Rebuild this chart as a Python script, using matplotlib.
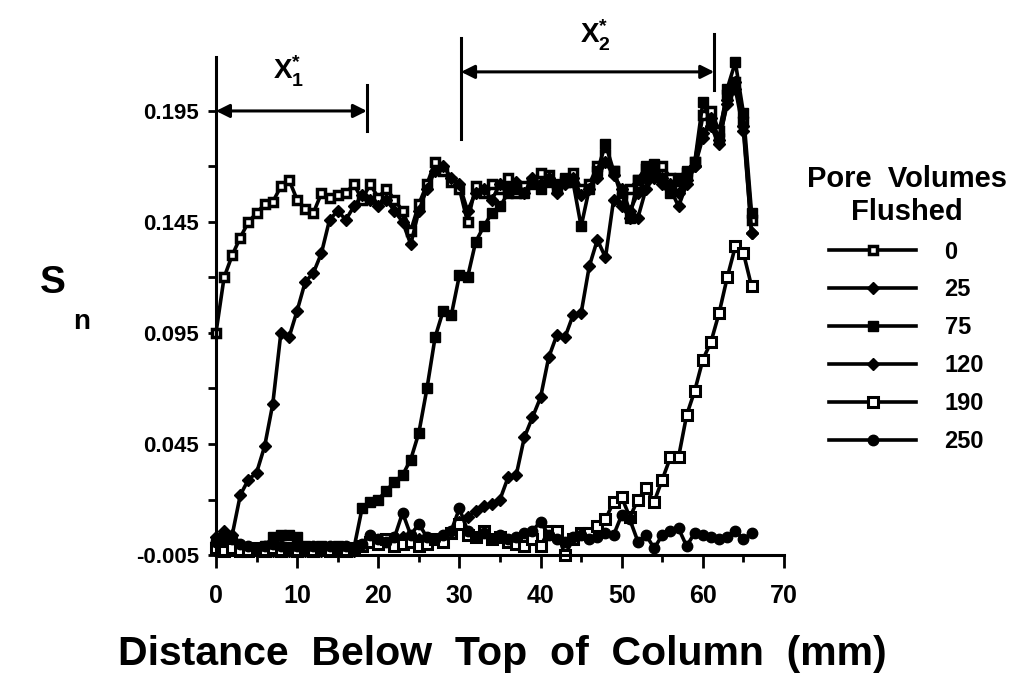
import matplotlib
matplotlib.use("Agg")
import matplotlib.pyplot as plt
from matplotlib.ticker import FixedLocator

plt.rcParams['font.family'] = ['Liberation Sans', 'DejaVu Sans']
plt.rcParams['font.weight'] = 'bold'
plt.rcParams['mathtext.fontset'] = 'custom'
plt.rcParams['mathtext.rm'] = 'Liberation Sans:bold'
plt.rcParams['mathtext.bf'] = 'Liberation Sans:bold'
plt.rcParams['mathtext.it'] = 'Liberation Sans:bold'

# distance below top of column (mm)
distance = [0, 1, 2, 3, 4, 5, 6, 7, 8, 9,
            10, 11, 12, 13, 14, 15, 16, 17, 18, 19,
            20, 21, 22, 23, 24, 25, 26, 27, 28, 29,
            30, 31, 32, 33, 34, 35, 36, 37, 38, 39,
            40, 41, 42, 43, 44, 45, 46, 47, 48, 49,
            50, 51, 52, 53, 54, 55, 56, 57, 58, 59,
            60, 61, 62, 63, 64, 65, 66]

sn_0 = [0.095, 0.120, 0.130, 0.138, 0.145, 0.149, 0.153, 0.154, 0.161, 0.164,
        0.155, 0.151, 0.149, 0.158, 0.156, 0.157, 0.158, 0.162, 0.155, 0.162,
        0.156, 0.160, 0.155, 0.150, 0.141, 0.153, 0.162, 0.172, 0.168, 0.163,
        0.160, 0.145, 0.161, 0.158, 0.162, 0.160, 0.165, 0.158, 0.161, 0.163,
        0.167, 0.166, 0.160, 0.163, 0.167, 0.160, 0.162, 0.170, 0.175, 0.168,
        0.156, 0.160, 0.164, 0.169, 0.166, 0.170, 0.165, 0.160, 0.167, 0.172,
        0.193, 0.195, 0.186, 0.202, 0.208, 0.190, 0.146]

sn_25 = [0.003, 0.006, 0.004, 0.022, 0.029, 0.032, 0.044, 0.063, 0.095, 0.093,
         0.105, 0.118, 0.122, 0.131, 0.146, 0.150, 0.146, 0.152, 0.157, 0.155,
         0.152, 0.155, 0.150, 0.145, 0.135, 0.150, 0.160, 0.168, 0.170, 0.165,
         0.162, 0.150, 0.158, 0.160, 0.155, 0.162, 0.160, 0.163, 0.158, 0.165,
         0.162, 0.165, 0.158, 0.162, 0.165, 0.157, 0.160, 0.165, 0.172, 0.166,
         0.160, 0.150, 0.158, 0.165, 0.168, 0.165, 0.162, 0.158, 0.164, 0.170,
         0.185, 0.188, 0.180, 0.200, 0.208, 0.188, 0.140]

sn_75 = [0.000, -0.001, -0.002, -0.002, -0.002, -0.002, -0.001, 0.003, 0.004, 0.004,
         0.003, -0.001, -0.002, -0.001, -0.002, -0.001, -0.003, -0.002, 0.016, 0.019,
         0.020, 0.024, 0.028, 0.031, 0.038, 0.050, 0.070, 0.093, 0.105, 0.103,
         0.121, 0.120, 0.136, 0.143, 0.149, 0.152, 0.158, 0.160, 0.158, 0.162,
         0.160, 0.163, 0.162, 0.165, 0.163, 0.143, 0.160, 0.168, 0.180, 0.168,
         0.158, 0.147, 0.164, 0.170, 0.171, 0.165, 0.158, 0.165, 0.168, 0.172,
         0.199, 0.190, 0.183, 0.205, 0.217, 0.194, 0.149]

sn_120 = [-0.003, -0.003, -0.002, -0.003, -0.002, -0.003, -0.002, -0.003, -0.002, -0.003,
          -0.002, -0.003, -0.002, -0.003, -0.002, -0.003, -0.002, -0.003, -0.001, 0.001,
          0.000, 0.002, 0.001, 0.003, 0.001, 0.002, 0.000, 0.002, 0.003, 0.005,
          0.010, 0.012, 0.015, 0.017, 0.018, 0.020, 0.030, 0.031, 0.048, 0.057,
          0.066, 0.084, 0.094, 0.093, 0.103, 0.104, 0.125, 0.137, 0.129, 0.155,
          0.152, 0.147, 0.147, 0.160, 0.165, 0.162, 0.160, 0.152, 0.162, 0.170,
          0.183, 0.192, 0.182, 0.198, 0.205, 0.186, 0.140]

sn_190 = [-0.002, -0.003, -0.002, -0.003, -0.003, -0.002, -0.003, -0.002, -0.003, -0.002,
          -0.003, -0.002, -0.003, -0.002, -0.003, -0.002, -0.003, -0.002, -0.001, 0.001,
          0.000, 0.002, -0.001, 0.000, 0.001, -0.001, 0.000, 0.002, 0.001, 0.005,
          0.009, 0.004, 0.003, 0.006, 0.002, 0.003, 0.001, 0.000, -0.001, 0.002,
          -0.001, 0.006, 0.006, -0.005, 0.002, 0.005, 0.005, 0.008, 0.011, 0.019,
          0.021, 0.012, 0.020, 0.025, 0.019, 0.029, 0.039, 0.039, 0.058, 0.069,
          0.083, 0.091, 0.104, 0.120, 0.134, 0.131, 0.116]

sn_250 = [0.001, 0.003, 0.002, 0.000, -0.001, -0.002, -0.001, 0.000, -0.001, -0.002,
          -0.001, -0.002, -0.001, -0.002, -0.001, -0.002, -0.001, -0.002, 0.000, 0.004,
          0.002, 0.001, 0.003, 0.014, 0.004, 0.009, 0.003, 0.002, 0.004, 0.006,
          0.016, 0.006, 0.003, 0.005, 0.002, 0.004, 0.002, 0.003, 0.005, 0.006,
          0.010, 0.004, 0.002, 0.001, 0.003, 0.004, 0.002, 0.003, 0.005, 0.004,
          0.013, 0.011, 0.001, 0.004, -0.002, 0.004, 0.006, 0.007, -0.001, 0.005,
          0.004, 0.003, 0.002, 0.003, 0.006, 0.002, 0.005]

labels = ['0', '25', '75', '120', '190', '250']
series = [sn_0, sn_25, sn_75, sn_120, sn_190, sn_250]
y_ticks = [-0.005, 0.045, 0.095, 0.145, 0.195]
y_minor = [0.02, 0.07, 0.12, 0.17]
x_ticks = [0, 10, 20, 30, 40, 50, 60, 70]
x_minor = [5, 15, 25, 35, 45, 55, 65]

styles = [
    dict(marker='s', ms=5.5, mfc='white', mec='black', mew=2.5),
    dict(marker='D', ms=6.5, mfc='black', mec='black'),
    dict(marker='s', ms=7.5, mfc='black', mec='black'),
    dict(marker='D', ms=6.5, mfc='black', mec='black'),
    dict(marker='s', ms=7.5, mfc='white', mec='black', mew=2.2),
    dict(marker='o', ms=7.5, mfc='black', mec='black'),
]

fig = plt.figure(figsize=(10.23, 6.81), dpi=100)
ax = fig.add_axes([0.2111, 0.185, 0.5553, 0.7313])

for lab, ys, st in zip(labels, series, styles):
    ax.plot(distance, ys, color='black', lw=2.6, label=lab, clip_on=False, **st)

ax.set_xlim(0, 70)
ax.set_ylim(-0.005, 0.2193)
for s in ['top', 'right']:
    ax.spines[s].set_visible(False)
for s in ['left', 'bottom']:
    ax.spines[s].set_linewidth(2.2)

ax.set_yticks(y_ticks)
ax.set_yticklabels(['%.3f' % v for v in y_ticks])
ax.yaxis.set_minor_locator(FixedLocator(y_minor))
ax.set_xticks(x_ticks)
ax.set_xticklabels([str(v) for v in x_ticks])
ax.xaxis.set_minor_locator(FixedLocator(x_minor))
ax.tick_params(axis='y', which='both', direction='out', length=6, width=2, labelsize=16, pad=6)
ax.tick_params(axis='x', which='major', direction='out', length=9, width=2, labelsize=18, pad=12)
ax.tick_params(axis='x', which='minor', direction='out', length=5, width=2)

# X1* and X2* spans
arrow = dict(arrowstyle='<|-|>', color='black', lw=2.2, mutation_scale=20, shrinkA=0, shrinkB=0)
ax.annotate('', xy=(0, 0.195), xytext=(18.6, 0.195), arrowprops=arrow, annotation_clip=False)
ax.plot([18.6, 18.6], [0.186, 0.2065], color='black', lw=2.2, clip_on=False)
ax.text(9.0, 0.205, r'$\mathbf{X}^{*}_{1}$', fontsize=20, ha='center', va='bottom')

ax.annotate('', xy=(30.2, 0.2126), xytext=(61.4, 0.2126), arrowprops=arrow, annotation_clip=False)
ax.plot([30.2, 30.2], [0.1823, 0.2279], color='black', lw=2.2, clip_on=False)
ax.plot([61.4, 61.4], [0.2045, 0.2295], color='black', lw=2.2, clip_on=False)
ax.text(46.8, 0.2209, r'$\mathbf{X}^{*}_{2}$', fontsize=20, ha='center', va='bottom')

# axis labels
fig.text(0.491, 0.04, 'Distance  Below  Top  of  Column  (mm)', fontsize=29.5, ha='center', va='center')
fig.text(0.052, 1 - 283 / 681, 'S', fontsize=28, ha='center', va='center')
fig.text(0.080, 1 - 322 / 681, 'n', fontsize=20, ha='center', va='center')

leg = ax.legend(loc='upper left', bbox_to_anchor=(0.766, 0.791), bbox_transform=fig.transFigure,
                frameon=False, fontsize=17, handlelength=3.7, handletextpad=1.2,
                labelspacing=0.63, title='Pore  Volumes\nFlushed', title_fontsize=21,
                alignment='center', borderpad=0.47)
leg.get_title().set_multialignment('center')
leg.get_title().set_fontweight('bold')

fig.savefig('out.png', dpi=100)
